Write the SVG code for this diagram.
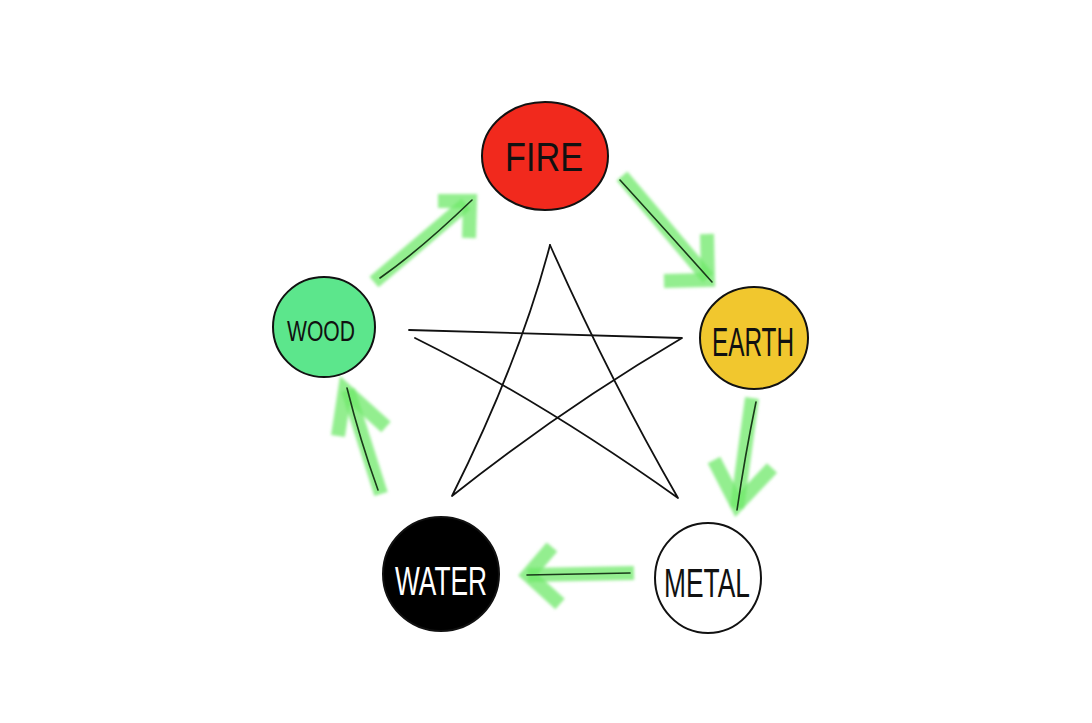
<svg xmlns="http://www.w3.org/2000/svg" width="1092" height="723" viewBox="0 0 1092 723">
<defs>
<style>
.node{stroke:#111;stroke-width:2}
.lbl{font-family:"Liberation Sans Narrow","Liberation Sans",sans-serif;font-size:40px;text-anchor:middle;fill:#111}
.glow{fill:none;stroke:#6fe86a;stroke-width:14;stroke-opacity:0.75;stroke-linecap:butt;stroke-linejoin:miter}
.ink{fill:none;stroke:#1a3a1a;stroke-width:1.6;stroke-linecap:round}
.star{fill:none;stroke:#111;stroke-width:1.8;stroke-linejoin:round;stroke-linecap:round}
</style>
<filter id="soft" x="-20%" y="-20%" width="140%" height="140%"><feGaussianBlur stdDeviation="1.5"/></filter>
</defs>
<rect width="1092" height="723" fill="#fff"/>
<g id="star">
<path class="star" d="M550,245 Q520,360 452,496 Q560,410 682,338 L409,330"/>
<path class="star" d="M415,338 Q540,400 678,498 Q610,380 550,245"/>
</g>
<g id="connectors">
<g filter="url(#soft)">
<path class="glow" d="M374,282 L466,204"/>
<path class="glow" d="M438,201 L470,201 L469,238"/>
<path class="glow" d="M622,176 L708,278"/>
<path class="glow" d="M707,234 L708,280 L664,281"/>
<path class="glow" d="M752,398 L737,508"/>
<path class="glow" d="M714,460 L737,505 L772,468"/>
<path class="glow" d="M634,573 L528,575"/>
<path class="glow" d="M552,547 L528,575 L560,604"/>
<path class="glow" d="M381,494 L348,390"/>
<path class="glow" d="M338,436 L345,390 L386,427"/>
</g>
<path class="ink" d="M380,278 Q420,250 472,200"/>
<path class="ink" d="M620,180 Q670,235 712,282"/>
<path class="ink" d="M756,402 Q745,455 737,510"/>
<path class="ink" d="M630,573 L527,575"/>
<path class="ink" d="M378,490 Q360,440 347,388"/>
</g>
<g id="fire">
<ellipse class="node" cx="545" cy="156" rx="63" ry="54" fill="#f1291d"/>
<text class="lbl" x="544" y="171" textLength="78" lengthAdjust="spacingAndGlyphs">FIRE</text>
</g>
<g id="earth">
<ellipse class="node" cx="754" cy="338" rx="54" ry="51" fill="#f1c72e"/>
<text class="lbl" x="753" y="356" textLength="82" lengthAdjust="spacingAndGlyphs">EARTH</text>
</g>
<g id="metal">
<ellipse class="node" cx="708" cy="578" rx="53" ry="55" fill="#fff"/>
<text class="lbl" x="707" y="597" textLength="86" lengthAdjust="spacingAndGlyphs">METAL</text>
</g>
<g id="water">
<ellipse class="node" cx="441" cy="574" rx="58" ry="57" fill="#000"/>
<text class="lbl" x="441" y="595" textLength="92" lengthAdjust="spacingAndGlyphs" style="fill:#fff">WATER</text>
</g>
<g id="wood">
<ellipse class="node" cx="324" cy="327" rx="51" ry="50" fill="#5ce68c"/>
<text class="lbl" x="321" y="341" textLength="68" lengthAdjust="spacingAndGlyphs" style="font-size:30px">WOOD</text>
</g>
</svg>
